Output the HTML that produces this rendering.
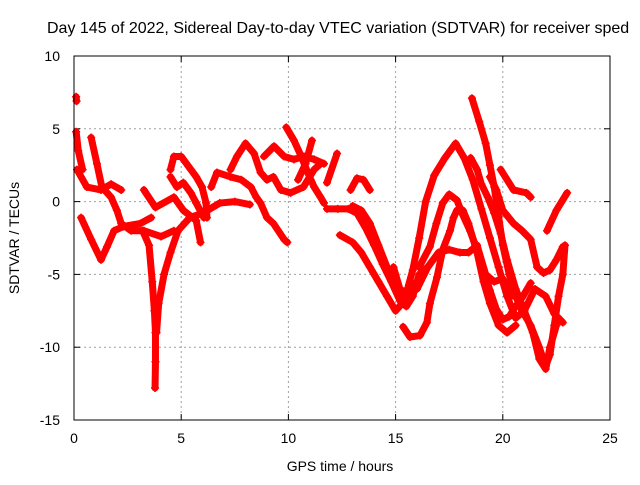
<!DOCTYPE html>
<html><head><meta charset="utf-8"><style>
body{margin:0;background:#fff;overflow:hidden}
svg text{font-family:"Liberation Sans",sans-serif;fill:#000}
</style></head><body>
<svg id="chart" width="640" height="480" viewBox="0 0 640 480" xmlns="http://www.w3.org/2000/svg">
<rect width="640" height="480" fill="#fff"/>
<text x="47" y="33" font-size="16">Day 145 of 2022, Sidereal Day-to-day VTEC variation (SDTVAR) for receiver sped</text>
<g id="grid"></g>
<g id="ticks"></g>
<g id="series"></g>
<rect x="74" y="56" width="536" height="364" fill="none" stroke="#000" stroke-width="1"/>
<text transform="translate(19,238) rotate(-90)" text-anchor="middle" font-size="14">SDTVAR / TECUs</text>
<text x="340" y="471" text-anchor="middle" font-size="14">GPS time / hours</text>
</svg>
<script>
const xTicks=[0,5,10,15,20,25];
const yTicks=[10,5,0,-5,-10,-15];
const t1=[[0.1,7.2],[0.12,6.9]];
const t2=[[0.1,4.8],[0.2,3.5],[0.4,2.2]];
const t3=[[0.14,2.2],[0.6,1.0],[1.26,0.8],[1.73,1.2],[2.2,0.8]];
const t4=[[0.8,4.4],[1.07,2.6],[1.3,1.0],[1.73,0.3],[2.0,-0.6],[2.2,-1.5],[2.66,-2.0],[3.26,-2.0],[4.06,-2.4],[4.66,-2.0]];
const t5=[[0.33,-1.1],[0.8,-2.6],[1.26,-4.0],[1.54,-3.1],[1.87,-2.0],[2.33,-1.7],[3.1,-1.5],[3.6,-1.1]];
const t6=[[3.26,0.8],[3.8,-0.4],[4.66,0.3],[5.1,-0.6],[5.7,-1.3],[5.9,-2.8]];
const t7=[[3.2,-2.0],[3.5,-3.0],[3.65,-5.5],[3.75,-7.5],[3.8,-9],[3.8,-11],[3.78,-12.8]];
const t8=[[3.85,-9],[3.95,-7],[4.2,-5],[4.5,-3.5],[4.85,-2.0],[5.4,-1.1],[6.0,-0.8],[6.8,-0.1],[7.5,0],[8.2,-0.2]];
const t9=[[4.5,2.2],[4.66,3.1],[5.0,3.1],[5.45,2.2],[5.7,1.7],[5.97,1.0],[6.16,-0.1],[6.2,-1.1]];
const t10=[[4.5,1.7],[4.8,1.0],[5.1,1.3],[5.45,0.6],[5.7,-0.1],[6.06,-1.1]];
const t11=[[6.4,1.0],[6.67,2.0],[7.3,1.7],[7.8,1.5],[8.25,1.0],[8.5,0.3],[8.7,-0.1],[9.0,-1.1],[9.3,-1.5],[9.8,-2.6],[9.95,-2.8]];
const t12=[[7.3,2.2],[7.6,3.1],[8.0,4.0],[8.4,3.3],[8.7,2.0],[9.0,1.5],[9.3,1.7],[9.65,0.8],[10.1,0.6],[10.7,1.0],[11.2,2.2],[11.5,2.6]];
const t13=[[8.86,3.1],[9.33,3.8],[9.8,3.1],[10.26,2.9],[10.73,3.1],[11.2,2.9],[11.66,2.6]];
const t14=[[9.9,5.1],[10.26,4.2],[10.6,3.1],[10.9,2.0],[11.2,1.0],[11.5,0.3],[11.66,-0.1]];
const t15=[[11.1,4.2],[10.8,2.6],[10.45,1.5]];
const t16=[[12.27,3.3],[11.8,1.3]];
const t17=[[12.9,0.8],[13.2,1.6],[13.5,1.5],[13.8,0.8]];
const t18=[[11.8,-0.5],[12.3,-0.5],[12.8,-0.5],[13.2,-0.8],[13.6,-1.8],[14.0,-3.0],[14.4,-4.3],[14.8,-5.5],[15.2,-6.8],[15.5,-7.2],[15.8,-6.5],[16.1,-5],[16.4,-4.6]];
const t19=[[12.4,-2.3],[13.0,-2.8],[13.4,-3.5],[13.8,-4.5],[14.2,-5.5],[14.6,-6.5],[15.0,-7.5],[15.3,-7.0],[15.6,-6.2],[16.0,-5.5]];
const t20=[[13.0,-0.3],[13.4,-0.6],[13.8,-1.5],[14.2,-3],[14.6,-4.5],[15.0,-5.8],[15.4,-6.5]];
const t21=[[14.9,-4.5],[15.2,-6.0],[15.5,-6.3],[15.8,-4.7],[16.1,-2.5],[16.4,0],[16.8,1.8],[17.3,3.0],[17.8,4.0],[18.2,3.0],[18.6,1.5],[19.0,-0.5],[19.4,-2.5],[19.8,-4.5],[20.2,-6.5],[20.6,-8.0],[21.0,-7.5],[21.5,-6],[22.0,-6.5],[22.4,-7.7],[22.8,-8.3]];
const t22=[[18.56,7.1],[18.9,5.5],[19.2,4],[19.4,2.5],[19.6,1],[19.8,-1],[20.0,-3],[20.3,-5],[20.6,-6.5],[20.9,-7.5],[21.3,-8.5],[21.7,-10],[22.0,-11.3],[22.2,-10.5],[22.4,-8.5],[22.6,-6.5],[22.8,-5.0],[22.9,-3.0]];
const t23=[[18.5,3.0],[18.8,2.2],[19.0,1.2],[19.3,0.3],[19.6,-0.8],[19.9,-2.2],[20.2,-4],[20.6,-6],[21.0,-7.5],[21.4,-9],[21.7,-10.8],[22.0,-11.5],[22.2,-10],[22.5,-8.5]];
const t24=[[19.9,2.2],[20.5,0.8],[21.1,0.6],[21.3,0.3]];
const t25=[[19.4,1.7],[19.7,0.8],[20.0,-0.6],[20.5,-1.5],[20.9,-2.0],[21.3,-2.6],[21.6,-4.5],[21.9,-4.9],[22.2,-4.7],[22.5,-4.0],[22.8,-3.1]];
const t26=[[22.06,-2.0],[22.5,-0.6],[23.0,0.6]];
const t27=[[16.1,-4.5],[16.6,-3.1],[16.9,-1.5],[17.2,-0.1],[17.5,0.5],[17.86,0.1],[18.1,-0.8],[18.47,-2.0],[18.8,-3.3],[19.1,-4.7],[19.4,-6.1],[19.7,-7.4],[20.0,-8.1],[20.3,-7.9],[20.6,-7.2],[20.9,-6.6],[21.3,-5.6]];
const t28=[[15.35,-8.6],[15.67,-9.3],[16.14,-9.2],[16.46,-8.3],[16.6,-7.0],[16.93,-5.2],[17.2,-3.3],[17.54,-2.0],[17.7,-1.1],[17.86,-0.6],[18.14,-0.6],[18.4,-1.5],[18.8,-3.5],[19.1,-5.5],[19.4,-7],[19.8,-8.5],[20.2,-9.0],[20.6,-8.5]];
const t29=[[16.0,-6],[16.5,-4.5],[17.0,-3.5],[17.5,-3.3],[18.0,-3.5],[18.4,-3.5],[18.8,-3.0],[19.2,-5],[19.6,-5.5],[20.0,-5.3],[20.4,-6.5]];
const tracks=[t1,t2,t3,t4,t5,t6,t7,t8,t9,t10,t11,t12,t13,t14,t15,t16,t17,t18,t19,t20,t21,t22,t23,t24,t25,t26,t27,t28,t29];

const NS='http://www.w3.org/2000/svg';
const X0=74,X1=610,Y0=420,Y1=56;
function sx(v){return X0+(v-0)/25*(X1-X0);}
function sy(v){return Y0-(v+15)/25*(Y0-Y1);}
function mk(tag,attrs,parent){const e=document.createElementNS(NS,tag);for(const k in attrs)e.setAttribute(k,attrs[k]);parent.appendChild(e);return e;}
const grid=document.getElementById('grid'),ticks=document.getElementById('ticks'),series=document.getElementById('series');
xTicks.forEach(v=>{
  const x=sx(v);
  if(v>0&&v<25){const g=mk('line',{x1:x,x2:x,y1:Y1,y2:Y0,stroke:'#a0a0a0','stroke-dasharray':'2,3'},grid);
  
  }
  mk('line',{x1:x,x2:x,y1:Y0,y2:Y0-6,stroke:'#000'},ticks);
  mk('line',{x1:x,x2:x,y1:Y1,y2:Y1+6,stroke:'#000'},ticks);
  const t=mk('text',{x:x,y:Y0+23,'text-anchor':'middle','font-size':'14'},ticks);
  t.textContent=v;
  
  
});
yTicks.forEach(v=>{
  const y=sy(v);
  if(v>-15&&v<10){const g=mk('line',{x1:X0,x2:X1,y1:y,y2:y,stroke:'#a0a0a0','stroke-dasharray':'2,3'},grid);
  
  }
  mk('line',{x1:X0,x2:X0+6,y1:y,y2:y,stroke:'#000'},ticks);
  mk('line',{x1:X1,x2:X1-6,y1:y,y2:y,stroke:'#000'},ticks);
  const t=mk('text',{x:X0-14,y:y+5,'text-anchor':'end','font-size':'14'},ticks);
  t.textContent=v;
  
  
});
tracks.forEach((tr,i)=>{
  const g=mk('g',{},series);
  
  
  if(tr.length>1){
    mk('polyline',{points:tr.map(p=>sx(p[0])+','+sy(p[1])).join(' '),fill:'none',stroke:'#ff0000','stroke-width':'7','stroke-linejoin':'round','stroke-linecap':'round'},g);
  }
  tr.forEach(p=>{
    const x=sx(p[0]),y=sy(p[1]);
    mk('path',{d:`M${x-4},${y}H${x+4}M${x},${y-4}V${y+4}`,stroke:'#ff0000','stroke-width':'1.5'},g);
  });
});
</script>
</body></html>
